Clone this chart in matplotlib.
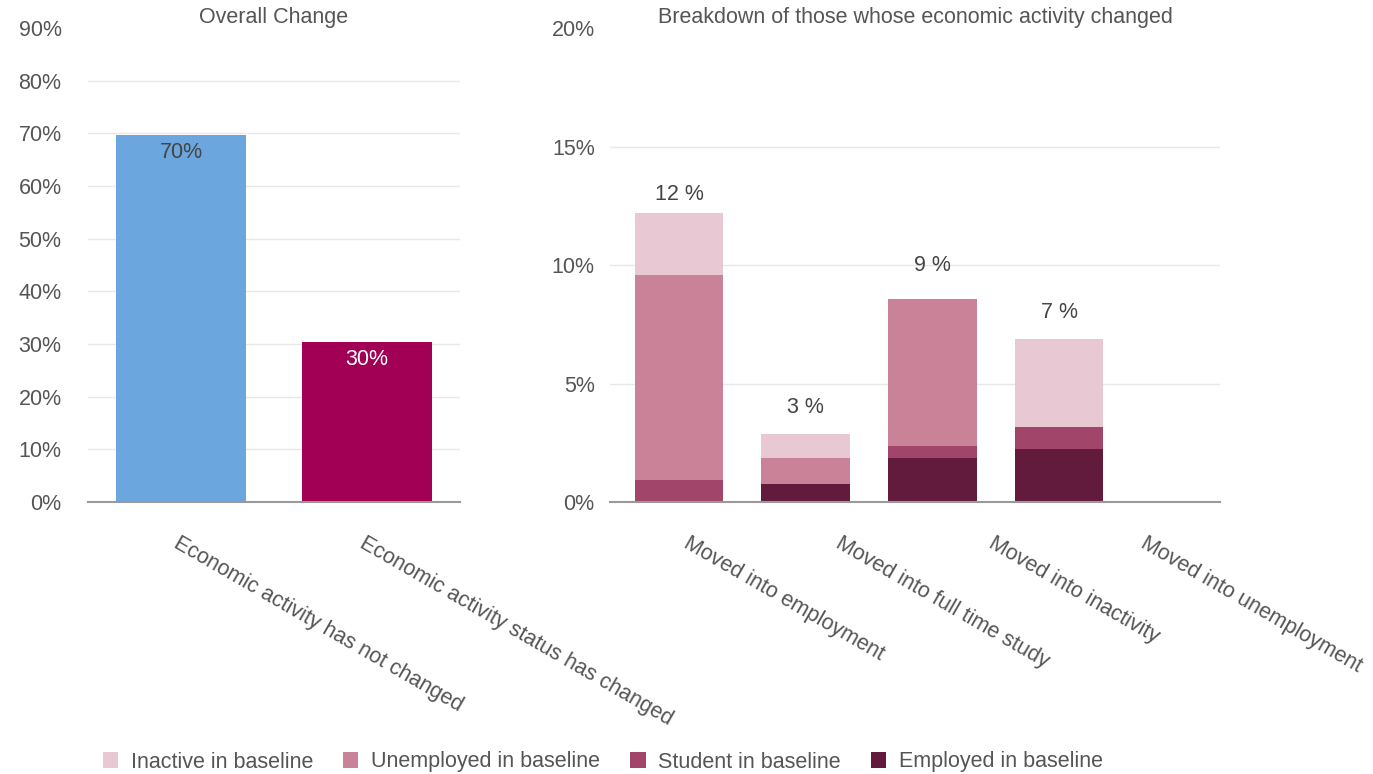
import matplotlib.pyplot as plt
import numpy as np

plt.rcParams['font.family'] = ['Liberation Sans', 'DejaVu Sans']
plt.rcParams['font.size'] = 15.5

# left panel data
overall_cats = ['Economic activity has not changed', 'Economic activity status has changed']
overall_vals = [69.7, 30.3]
overall_labels = ['70%', '30%']
overall_colors = ['#6ca6de', '#a10054']

# right panel data (stacked, %)
move_cats = ['Moved into employment', 'Moved into full time study',
             'Moved into inactivity', 'Moved into unemployment']
employed = [0.0, 0.76, 1.87, 2.25]
student = [0.94, 0.0, 0.51, 0.93]
unemployed = [8.65, 1.11, 6.19, 0.0]
inactive = [2.62, 0.99, 0.0, 3.70]
total_labels = [12, 3, 9, 7]

series_names = ['Employed in baseline', 'Student in baseline',
                'Unemployed in baseline', 'Inactive in baseline']
series_colors = ['#621a3d', '#a2456a', '#ca8299', '#e8c8d2']

txt = '#555555'
fig = plt.figure(figsize=[13.73, 7.74], dpi=100)
ax1 = fig.add_axes([0.0641, 0.3514, 0.2709, 0.6124])
ax2 = fig.add_axes([0.4443, 0.3514, 0.4443, 0.6124])

x1 = np.arange(len(overall_cats))
ax1.bar(x1, overall_vals, width=0.7, color=overall_colors, zorder=2)
for i, (v, l) in enumerate(zip(overall_vals, overall_labels)):
    ax1.annotate(l, (x1[i], v), xytext=(0, -12.5), textcoords='offset points',
                 ha='center', va='center', color='white' if i == 1 else '#444444')
ax1.set_xlim(-0.5, 1.5)
ax1.set_ylim(0, 90)
ax1.set_yticks(np.arange(0, 91, 10))
ax1.set_yticklabels([f'{t}%' for t in range(0, 91, 10)])
ax1.set_xticks(x1)
ax1.set_title('Overall Change', color=txt, pad=2, fontsize=15.5)

x2 = np.arange(len(move_cats))
bottom = np.zeros(len(move_cats))
for vals, name, c in zip([employed, student, unemployed, inactive], series_names, series_colors):
    ax2.bar(x2, vals, bottom=bottom, width=0.7, color=c, label=name, zorder=2)
    bottom += np.array(vals)
for i, t in enumerate(total_labels):
    ax2.annotate(f'{t} %', (x2[i], t), xytext=(0, 17), textcoords='offset points',
                 ha='center', va='center', color='#444444')
xl = (-0.545, 4.27)
ax2.set_xlim(*xl)
ax2.set_ylim(0, 20)
ax2.set_yticks(np.arange(0, 21, 5))
ax2.set_yticklabels([f'{t}%' for t in range(0, 21, 5)])
# category labels sit at the centres of equal slots across the axis
slot = (xl[1] - xl[0]) / len(move_cats)
ax2.set_xticks(xl[0] + slot * (x2 + 0.5) + 0.03)
ax2.set_title('Breakdown of those whose economic activity changed', color=txt, pad=2, fontsize=15.5)

for ax, cats, pad in [(ax1, overall_cats, 19), (ax2, move_cats, 11)]:
    ax.set_xticklabels(cats, rotation=-30, ha='left', rotation_mode='anchor', fontsize=15.5)
    for s in ['top', 'right', 'left']:
        ax.spines[s].set_visible(False)
    ax.spines['bottom'].set_color('#999999')
    ax.spines['bottom'].set_linewidth(1.5)
    ax.spines['bottom'].set_zorder(3)
    ax.tick_params(axis='both', length=0, colors=txt)
    ax.tick_params(axis='y', pad=pad)
    ax.tick_params(axis='x', pad=22)
    ax.grid(axis='y', color='#e8e8e8', linewidth=1, zorder=0)
    ax.yaxis.get_gridlines()[-1].set_visible(False)

h, l = ax2.get_legend_handles_labels()
fig.legend(h[::-1], l[::-1], loc='center', bbox_to_anchor=(603 / 1373, 1 - 762 / 774),
           ncol=4, frameon=False, handlelength=0.7, handleheight=0.7,
           columnspacing=1.4, handletextpad=0.6, labelcolor=txt)

fig.savefig('out.png', dpi=100)
